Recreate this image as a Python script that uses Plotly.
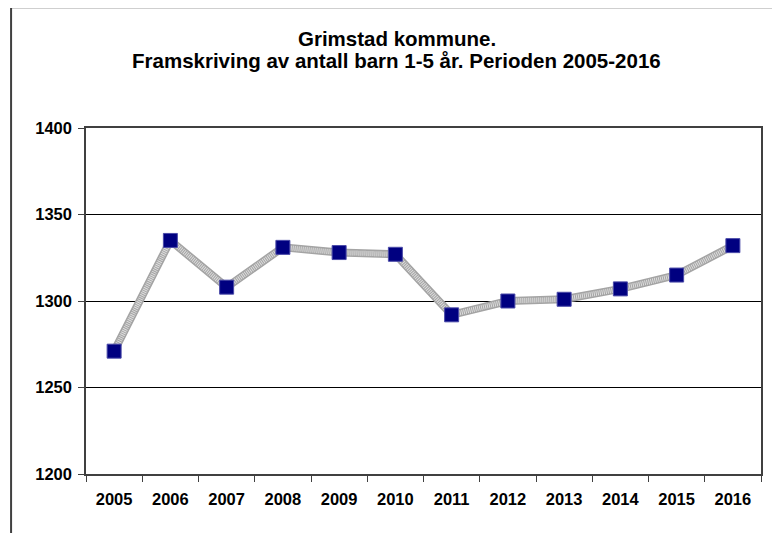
import plotly.graph_objects as go

# data
years = ["2005", "2006", "2007", "2008", "2009", "2010",
         "2011", "2012", "2013", "2014", "2015", "2016"]
antall_barn = [1271, 1335, 1308, 1331, 1328, 1327,
               1292, 1300, 1301, 1307, 1315, 1332]
y_ticks = [1200, 1250, 1300, 1350, 1400]
title_lines = ["Grimstad kommune.",
               "Framskriving av antall barn 1-5 år. Perioden 2005-2016"]

font_family = "Liberation Sans, Arial, sans-serif"

fig = go.Figure()

# thick grey "hatched" line, built from two layered lines
fig.add_trace(go.Scatter(
    x=years, y=antall_barn, mode="lines",
    line=dict(color="#a4a4a4", width=8),
    hoverinfo="skip", showlegend=False,
))
fig.add_trace(go.Scatter(
    x=years, y=antall_barn, mode="lines",
    line=dict(color="#dedede", width=5, dash="1px,1px"),
    hoverinfo="skip", showlegend=False,
))
fig.add_trace(go.Scatter(
    x=years, y=antall_barn, mode="markers",
    marker=dict(symbol="square", size=14, color="#000080",
                line=dict(color="#4a4aa8", width=1)),
    showlegend=False,
))

# page body adds 8px margin, so the figure is a bit smaller than the window
fig.update_layout(
    width=772, height=525,
    paper_bgcolor="white", plot_bgcolor="white",
    margin=dict(l=78, r=19, t=120, b=59),
    font=dict(family=font_family, color="black"),
    xaxis=dict(
        type="category",
        tickson="boundaries",
        ticks="outside", ticklen=6, tickcolor="#404040", tickwidth=1,
        showline=True, linecolor="#404040", linewidth=2, mirror=True,
        showgrid=False,
        tickfont=dict(size=16.5, family=font_family),
        tickprefix="<b>", ticksuffix="</b>",
        ticklabelstandoff=9,
        range=[-0.5, 11.5],
    ),
    yaxis=dict(
        range=[1200, 1400],
        tickvals=y_ticks,
        ticktext=[f"<b>{v}</b>" for v in y_ticks],
        ticks="outside", ticklen=6, tickcolor="#404040",
        showline=True, linecolor="#404040", linewidth=1.5, mirror=True,
        showgrid=True, gridcolor="black", gridwidth=1,
        tickfont=dict(size=16.5, family=font_family),
        ticklabelstandoff=3,
        zeroline=False,
    ),
)

# two title lines as separate annotations
for txt, ypos in zip(title_lines, [1.26, 1.196]):
    fig.add_annotation(
        text=f"<b>{txt}</b>",
        xref="paper", yref="paper", x=0.46, y=ypos,
        xanchor="center", yanchor="middle",
        showarrow=False,
        font=dict(size=20.5, family=font_family, color="black"),
    )

# outer chart frame (cut off at right and bottom like the scan)
fig.add_shape(
    type="rect", xref="paper", yref="paper",
    x0=-0.111, x1=1.2, y0=-0.3, y1=1.349,
    line=dict(color="#404040", width=2),
    layer="below",
)

fig.write_html("out.html")
